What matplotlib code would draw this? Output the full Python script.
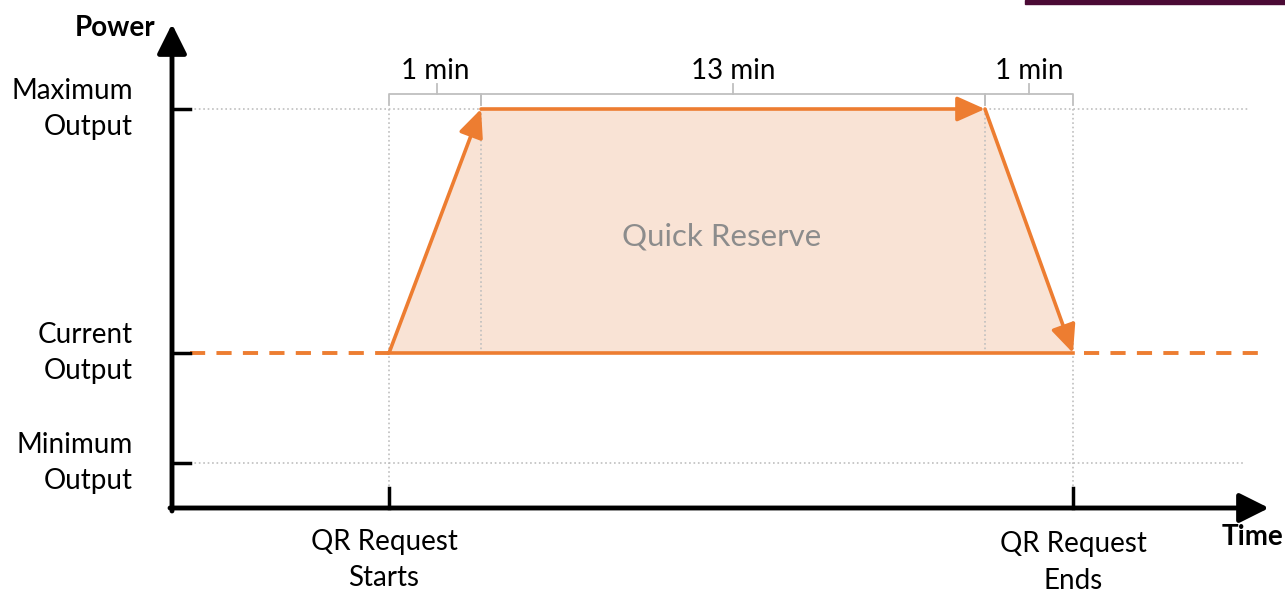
import matplotlib.pyplot as plt
from matplotlib.patches import Rectangle

# Schematic units: 1 unit ~ 100 px, origin at the axes corner
level_labels = ["Maximum\nOutput", "Current\nOutput", "Minimum\nOutput"]
level_values = [3.99, 1.55, 0.45]
max_out, cur_out, min_out = level_values

# event times (schematic positions)
event_times = [2.17, 3.09, 8.13, 9.01]   # request start, ramp done, ramp-down start, request end
t_start, t_up, t_down, t_end = event_times
event_labels = ["QR Request\nStarts", "QR Request\nEnds"]
duration_labels = ["1 min", "13 min", "1 min"]
duration_mid = [2.65, 5.61, 8.57]

orange = "#ED7D31"
fill_col = "#F9E3D5"
grey = "#BFBFBF"
font = "Lato"
fs = 20
ls = 1.48

fig = plt.figure(figsize=(12.85, 5.92), dpi=100)
ax = fig.add_axes([0, 0, 1, 1])
ax.set_xlim(-1.72, 11.13)
ax.set_ylim(-0.84, 5.08)
ax.axis("off")

# dotted guide lines
ax.plot([0.18, 10.78], [max_out, max_out], ls=":", color=grey, lw=1.2)
ax.plot([0.18, 10.73], [min_out, min_out], ls=":", color=grey, lw=1.2)
for t in [t_start, t_end]:
    ax.plot([t, t], [max_out, 0.2], ls=":", color=grey, lw=1.2)
for t in [t_up, t_down]:
    ax.plot([t, t], [max_out, cur_out], ls=":", color=grey, lw=1.2, zorder=3)

# quick reserve area
ax.fill([t_start, t_up, t_down, t_end], [cur_out, max_out, max_out, cur_out],
        color=fill_col, lw=0, zorder=2)
ax.plot([t_start, t_end], [cur_out, cur_out], color=orange, lw=2.6, zorder=4)
ax.plot([0.18, t_start], [cur_out, cur_out], color=orange, lw=2.8, dashes=(3.9, 2.9))
ax.plot([t_end + 0.11, 10.86], [cur_out, cur_out], color=orange, lw=2.8, dashes=(3.9, 2.9))
segs = [((t_start, cur_out), (t_up, max_out)),
        ((t_up, max_out), (t_down, max_out)),
        ((t_down, max_out), (t_end, cur_out))]
for (x0, y0), (x1, y1) in segs:
    ax.annotate("", xy=(x1, y1), xytext=(x0, y0),
                arrowprops=dict(arrowstyle="-|>,head_length=0.85,head_width=0.38",
                                color=orange, lw=2.6, mutation_scale=20,
                                shrinkA=0, shrinkB=0), zorder=5)
ax.text(5.5, 2.72, "Quick Reserve", color="#8C8C8C",
        fontsize=22.5, family=font, ha="center", va="center", zorder=6)

# braces over the durations
bounds = [(t_start, t_up), (t_up, t_down), (t_down, t_end)]
for (a, b), m, lab in zip(bounds, duration_mid, duration_labels):
    ax.plot([a, a, b, b], [max_out + 0.04, max_out + 0.15, max_out + 0.15, max_out + 0.04],
            color=grey, lw=1.3)
    ax.plot([m, m], [max_out + 0.15, max_out + 0.25], color=grey, lw=1.3)
    ax.text((a + b) / 2, max_out + 0.38, lab, fontsize=fs, family=font,
            ha="center", va="center")

# axes with arrows
ax.annotate("", xy=(0, 4.84), xytext=(0, -0.03),
            arrowprops=dict(arrowstyle="-|>,head_length=0.9,head_width=0.45",
                            color="black", lw=3.5, mutation_scale=20,
                            shrinkA=0, shrinkB=0))
ax.annotate("", xy=(10.97, 0), xytext=(-0.02, 0),
            arrowprops=dict(arrowstyle="-|>,head_length=0.9,head_width=0.45",
                            color="black", lw=3.5, mutation_scale=20,
                            shrinkA=0, shrinkB=0))
for v, lab in zip(level_values, level_labels):
    ax.plot([0, 0.18], [v, v], color="black", lw=2.5)
    ax.text(-0.39, v, lab, fontsize=fs, family=font, ha="right", va="center",
            linespacing=ls)
for t in [t_start, t_end]:
    ax.plot([t, t], [0, 0.2], color="black", lw=2.5)
for t, lab, y in zip([t_start - 0.05, t_end], event_labels, [-0.52, -0.545]):
    ax.text(t, y, lab, fontsize=fs, family=font,
            ha="center", va="center", linespacing=ls)

ax.text(-0.17, 4.80, "Power", fontsize=fs, family=font, weight="bold",
        ha="right", va="center")
ax.text(11.11, -0.29, "Time", fontsize=fs, family=font, weight="bold",
        ha="right", va="center")

# purple strip at the top right edge
fig.patches.append(Rectangle((1025 / 1285, 1 - 4 / 592), 260 / 1285, 4 / 592,
                             transform=fig.transFigure, color="#4B0A35"))

fig.savefig("out.png", dpi=100)
